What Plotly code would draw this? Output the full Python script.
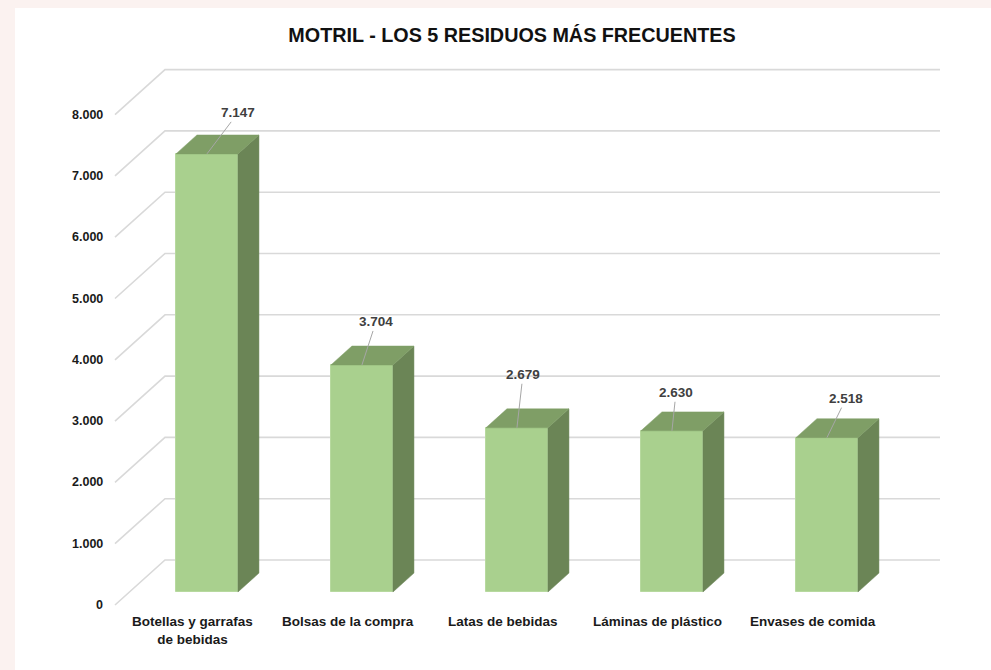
import plotly.graph_objects as go

# ---- data ----
categories = ["Botellas y garrafas<br>de bebidas", "Bolsas de la compra", "Latas de bebidas",
              "Láminas de plástico", "Envases de comida"]
values = [7147, 3704, 2679, 2630, 2518]
value_labels = ["7.147", "3.704", "2.679", "2.630", "2.518"]
y_ticks = [0, 1000, 2000, 3000, 4000, 5000, 6000, 7000, 8000]
y_tick_labels = ["0", "1.000", "2.000", "3.000", "4.000", "5.000", "6.000", "7.000", "8.000"]

# ---- layout / style constants (oblique 3D projection) ----
W, H = 991, 670
PX_PER_CAT = 155.0        # px per category
X0_PX = 192.5             # px of category 0 on front plane
PX_PER_UNIT = 0.0613      # px per value unit
Y0_PX = 605.0             # px of value 0 on front plane
DEPTH_PX_X, DEPTH_PX_Y = 50.0, 45.0
DXu = DEPTH_PX_X / PX_PER_CAT          # depth shift in x units
DVu = DEPTH_PX_Y / PX_PER_UNIT         # depth shift in value units
D0, D1 = 0.289, 0.709                  # bar depth span
HALF_W = 0.2                           # bar half width (category units)
label_offsets = [(31, -41), (14, -43), (6, -53), (4, -38), (19, -39)]

FRONT = "#a9d08e"
TOP = "#7f9e66"
SIDE = "#6b8556"
GRID = "#d9d9d9"
FONT = "Liberation Sans, Arial"

x_range = [(0 - X0_PX) / PX_PER_CAT, (W - X0_PX) / PX_PER_CAT]
y_range = [(Y0_PX - H) / PX_PER_UNIT, (Y0_PX - 0) / PX_PER_UNIT]

n = len(values)
cat_pos = list(range(n))
x_left, x_right = -0.5, n - 0.5

fig = go.Figure()

# white panel + gridlines (left wall diagonal + back wall horizontal)
shapes = [dict(type="rect", xref="paper", yref="paper", x0=15 / W, x1=1, y0=0, y1=1 - 8 / H,
               fillcolor="white", line=dict(width=0), layer="below")]
for v in y_ticks:
    path = f"M {x_left},{v} L {x_left + DXu},{v + DVu} L {x_right + DXu},{v + DVu}"
    shapes.append(dict(type="path", path=path, xref="x", yref="y", layer="below",
                       line=dict(color=GRID, width=1.6)))

# front faces as bars
fig.add_trace(go.Bar(
    x=[c + D0 * DXu for c in cat_pos],
    y=values,
    base=[D0 * DVu] * n,
    width=2 * HALF_W,
    marker=dict(color=FRONT, line=dict(color="#b7d99f", width=1)),
    hoverinfo="skip",
    showlegend=False,
))

# side and top faces
for c, v in zip(cat_pos, values):
    xr0 = c + HALF_W + D0 * DXu
    xr1 = c + HALF_W + D1 * DXu
    xl0 = c - HALF_W + D0 * DXu
    xl1 = c - HALF_W + D1 * DXu
    fig.add_trace(go.Scatter(
        x=[xr0, xr0, xr1, xr1, xr0],
        y=[D0 * DVu, v + D0 * DVu, v + D1 * DVu, D1 * DVu, D0 * DVu],
        mode="lines", fill="toself", fillcolor=SIDE,
        line=dict(color=SIDE, width=0.5), hoverinfo="skip", showlegend=False))
    fig.add_trace(go.Scatter(
        x=[xl0, xr0, xr1, xl1, xl0],
        y=[v + D0 * DVu, v + D0 * DVu, v + D1 * DVu, v + D1 * DVu, v + D0 * DVu],
        mode="lines", fill="toself", fillcolor=TOP,
        line=dict(color=TOP, width=0.5), hoverinfo="skip", showlegend=False))

annotations = []
# tick labels on front plane
for v, t in zip(y_ticks, y_tick_labels):
    annotations.append(dict(x=x_left, y=v, xref="x", yref="y", text=t, showarrow=False,
                            xanchor="right", yanchor="middle", xshift=-10,
                            font=dict(family=FONT, size=12.5, color="#1a1a1a", weight="bold")))
# category labels
for c, lab in zip(cat_pos, categories):
    annotations.append(dict(x=c, y=0, xref="x", yref="y", text=lab, showarrow=False,
                            xanchor="center", yanchor="top", yshift=-7,
                            font=dict(family=FONT, size=13.5, color="#1a1a1a", weight="bold")))
# data labels with leader lines
for c, v, lab, (ax, ay) in zip(cat_pos, values, value_labels, label_offsets):
    annotations.append(dict(x=c + D0 * DXu, y=v + D0 * DVu, xref="x", yref="y", text=lab,
                            showarrow=True, arrowhead=0, arrowwidth=1, arrowcolor="#a6a6a6",
                            ax=ax, ay=ay, standoff=0,
                            font=dict(family=FONT, size=13.5, color="#404040", weight="bold")))

fig.update_layout(
    width=W, height=H,
    margin=dict(l=0, r=0, t=0, b=0),
    paper_bgcolor="#fbf2f0",
    plot_bgcolor="rgba(0,0,0,0)",
    title=dict(text="<b>MOTRIL - LOS 5 RESIDUOS MÁS FRECUENTES</b>", x=512 / W, xanchor="center",
               y=1 - 35 / H, yanchor="middle",
               font=dict(family=FONT, size=19.75, color="#111111")),
    xaxis=dict(range=x_range, visible=False, fixedrange=True),
    yaxis=dict(range=y_range, visible=False, fixedrange=True),
    shapes=shapes,
    annotations=annotations,
    bargap=0,
)

fig.write_html("out.html", config={"displayModeBar": False},
               post_script="document.body.style.margin='0';document.body.style.overflow='hidden';")
